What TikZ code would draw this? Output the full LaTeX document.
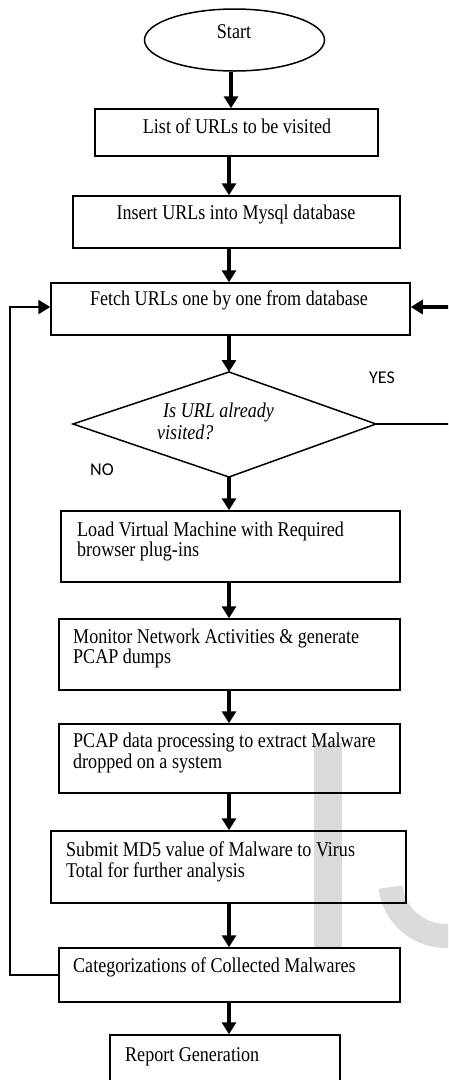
\documentclass[tikz,border=0pt]{standalone}
\usepackage{fontspec}
\setmainfont{Liberation Serif}[FakeStretch=0.86]
\newfontfamily\labelfont{Carlito}
\usetikzlibrary{arrows.meta,shapes.geometric}
\tikzset{
  box/.style={draw, line width=1.5pt, inner sep=0pt},
  txt/.style={inner sep=0pt, font=\fontsize{21}{24}\selectfont},
  itxt/.style={inner sep=0pt, font=\fontsize{21}{24}\selectfont\itshape},
  lbl/.style={inner sep=0pt, font=\labelfont\fontsize{18}{20}\selectfont},
  arr/.style={line width=3.5pt, -{Triangle[width=14pt,length=12pt]}},
  loopline/.style={line width=2.5pt, -{Triangle[width=14pt,length=12pt]}},
  thinline/.style={line width=1.7pt},
  wm/.style={fill=black!14},
}
\begin{document}
\begin{tikzpicture}[x=1pt,y=-1pt]
\useasboundingbox (0,0) rectangle (448,1080);
\clip (0,0) rectangle (448,1080);
% watermark
\fill[wm] (314,743) rectangle (342,947);
\begin{scope}
  \clip (370,890) -- (405,885) -- (450,885) -- (450,960) -- (370,960) -- cycle;
  \fill[wm,even odd rule] (446,880) circle[radius=68pt] (446,880) circle[radius=44pt];
\end{scope}
% axes for connectors
\coordinate (ax1) at (231,0);
\coordinate (ax) at (229,0);
% start
\node[ellipse, draw, line width=1.5pt, inner sep=0pt, minimum width=180pt, minimum height=62pt] (start) at (234.5,40) {};
\node[txt, anchor=base] (tstart) at (234,38) {Start};
% boxes
\node[box, minimum width=283pt, minimum height=47pt] (b1) at (236.5,132.5) {};
\node[txt, anchor=base] (t1) at (237,133) {List of URLs to be visited};
\node[box, minimum width=327pt, minimum height=52pt] (b2) at (236.5,222) {};
\node[txt, anchor=base] (t2) at (236,219) {Insert URLs into Mysql database};
\node[box, minimum width=359pt, minimum height=52pt] (b3) at (230.5,309) {};
\node[txt, anchor=base] (t3) at (229,305) {Fetch URLs one by one from database};
% decision
\coordinate (dt) at (229,372);
\coordinate (dl) at (73,424);
\coordinate (dr) at (376,424);
\coordinate (db) at (229,477);
\draw[line width=1.5pt] (dt) -- (dr) -- (db) -- (dl) -- cycle;
\node[itxt, anchor=base west] (d1) at (163,417) {Is URL already};
\node[itxt, anchor=base west] (d2) at (157,439) {visited?};
\node[lbl, anchor=base west] (yes) at (369,383) {YES};
\node[lbl, anchor=base west] (no) at (90,475) {NO};
\node[box, minimum width=339pt, minimum height=71pt] (b4) at (230.5,546.5) {};
\node[txt, anchor=base west] (t4a) at (77,536) {Load Virtual Machine with Required};
\node[txt, anchor=base west] (t4b) at (77,556) {browser plug-ins};
\node[box, minimum width=341pt, minimum height=71pt] (b5) at (229.5,654.5) {};
\node[txt, anchor=base west] (t5a) at (73,643) {Monitor Network Activities \& generate};
\node[txt, anchor=base west] (t5b) at (73,663) {PCAP dumps};
\node[box, minimum width=341pt, minimum height=69pt] (b6) at (229.5,758.5) {};
\node[txt, anchor=base west] (t6a) at (73,747) {PCAP data processing to extract Malware};
\node[txt, anchor=base west] (t6b) at (73,768) {dropped on a system};
\node[box, minimum width=355pt, minimum height=72pt] (b7) at (228.5,867) {};
\node[txt, anchor=base west] (t7a) at (66,856) {Submit MD5 value of Malware to Virus};
\node[txt, anchor=base west] (t7b) at (66,877) {Total for further analysis};
\node[box, minimum width=341pt, minimum height=54pt] (b8) at (229.5,975) {};
\node[txt, anchor=base west] (t8) at (73,972) {Categorizations of Collected Malwares};
\node[box, minimum width=230pt, minimum height=60pt] (b9) at (225,1065) {};
\node[txt, anchor=base west] (t9) at (125,1061) {Report Generation};
% connectors
\draw[arr] (start.south -| ax1) -- (b1.north -| ax1);
\draw[arr] (b1.south -| ax) -- (b2.north -| ax);
\draw[arr] (b2.south -| ax) -- (b3.north -| ax);
\draw[arr] (b3.south -| ax) -- (dt);
\draw[arr] (db) -- (b4.north -| ax);
\draw[arr] (b4.south -| ax) -- (b5.north -| ax);
\draw[arr] (b5.south -| ax) -- (b6.north -| ax);
\draw[arr] (b6.south -| ax) -- (b7.north -| ax);
\draw[arr] (b7.south -| ax) -- (b8.north -| ax);
\draw[arr] (b8.south -| ax) -- (b9.north -| ax);
% yes branch
\coordinate (rc) at (470,424);
\coordinate (rt) at (470,307);
\draw[thinline] (dr) -- (rc) -- (rt);
\draw[arr] (rt) -- (rt -| b3.east);
% loop back
\coordinate (lx) at (10,307);
\draw[loopline] (b8.west) -| (lx) -- (lx -| b3.west);
\end{tikzpicture}
\end{document}
